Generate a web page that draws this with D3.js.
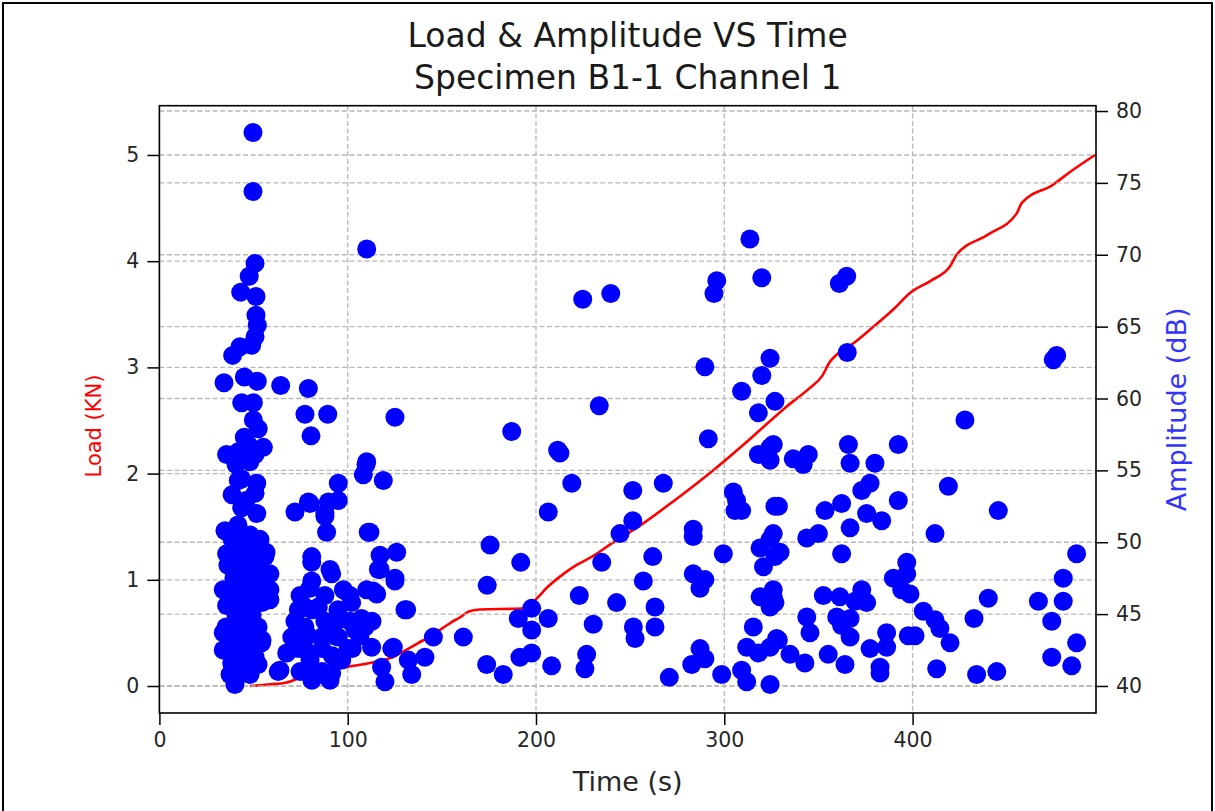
<!DOCTYPE html>
<html><head><meta charset="utf-8">
<script src="https://cdn.jsdelivr.net/npm/d3@7"></script>
<style>body{margin:0;background:#fff;}svg{display:block;font-family:"DejaVu Sans",sans-serif;}</style>
</head><body><svg id="c" width="1215" height="811"></svg>
<script>
const titleLines = ["Load & Amplitude VS Time", "Specimen B1-1 Channel 1"];
const xLabel = "Time (s)", yLeftLabel = "Load (KN)", yRightLabel = "Amplitude (dB)";
const xTicks = [0, 100, 200, 300, 400];
const loadTicks = [0, 1, 2, 3, 4, 5];
const ampTicks = [40, 45, 50, 55, 60, 65, 70, 75, 80];

const loadTime = [48,55,62,67,75,85,99.5,110,118,125,129,137,145,155,160,164,170,192.4,199.5,206,212.7,221.6,230,240,256,273,294,310,327.8,333,345,352,356,359.7,368,379,390,398.6,410,419.8,423.4,440,455.3,458,474.6,483.6,496.9];
const loadValue = [0,0.01,0.02,0.03,0.08,0.13,0.18,0.21,0.24,0.28,0.32,0.4,0.48,0.6,0.65,0.7,0.72,0.73,0.81,0.93,1.03,1.14,1.22,1.34,1.52,1.74,2.03,2.27,2.55,2.63,2.8,2.92,3.05,3.12,3.22,3.38,3.55,3.7,3.82,3.95,4.06,4.25,4.45,4.55,4.72,4.84,5.0];

const ampTime = [49.7,49.7,50.8,47.7,43.2,51.3,51.3,52.0,50.8,49.0,42.8,38.9,34.3,45.1,52.0,64.4,79.1,43.7,49.9,77.3,89.4,125.1,80.5,110.1,49.9,52.5,45.1,55.2,35.7,41.9,50.8,43.7,51.7,50.8,43.7,51.7,72.0,79.1,34.8,48.1,41.9,95.0,95.0,87.9,88.8,110.1,108.3,118.9,110.9,117.2,126.0,117.2,125.1,110.1,115.4,130.4,80.9,80.9,90.6,67.6,64.0,145.5,141.0,134.0,119.8,124.2,161.4,40.1,80.0,91.5,97.7,113.6,131.3,73.8,84.4,102.1,107.4,70.3,109.2,112.7,123.4,132.2,118.0,80.9,91.5,96.8,79.1,86.2,95.0,103.9,95.0,77.3,109.7,89.7,80.0,87.9,111.8,80.9,116.3,125.1,35.7,56.1,58.7,33.9,58.7,58.7,35.7,45.5,33.9,50.8,33.9,54.3,38.4,50.8,41.1,47.2,63.1,72.0,77.3,
38.6,45.5,53.4,41.7,49.2,56.6,36.4,44.9,52.4,39.6,48.1,55.5,42.8,50.8,37.5,46.0,54.5,40.7,49.2,35.4,43.9,52.4,38.6,47.1,54.5,41.7,50.2,44.9,52.4,37.5,48.1,47.1,40.7,48.1,46.0,38.6,41.7,
74.7,87.9,101.2,81.0,94.8,72.0,87.9,101.2,112.9,78.9,93.2,106.5,73.6,86.3,100.2,80.0,91.8,102.4,74.7,86.3,81.0,90.6,
224.8,239.7,296.0,294.5,313.6,319.9,289.7,324.3,319.9,309.2,233.6,326.9,187.1,211.5,212.7,219.0,206.5,251.4,267.6,291.5,251.4,244.6,175.6,191.9,174.1,234.9,262.0,283.5,283.5,299.5,283.5,289.7,287.1,257.0,223.0,242.8,263.2,197.7,190.6,206.5,197.7,230.4,251.7,252.6,263.2,191.5,197.7,173.8,182.6,208.3,226.9,226.0,270.8,282.7,287.1,289.7,298.6,309.2,311.9,324.3,315.4,311.9,318.1,324.3,327.8,318.1,318.1,324.3,324.3,326.9,326.0,319.0,320.8,319.0,324.3,326.0,304.8,306.5,305.7,309.2,324.3,326.9,427.8,326.0,365.9,392.4,336.6,344.6,341.9,366.8,380.0,377.4,373.0,419.0,392.4,328.7,353.5,362.3,375.6,383.6,445.5,366.8,411.9,343.8,350.0,329.6,362.3,396.9,389.8,396.9,398.6,394.2,487.1,480.0,480.0,466.8,440.2,432.6,473.9,487.1,473.9,484.5,444.7,434.0,412.8,382.7,382.7,364.1,342.8,334.9,355.2,377.4,386.2,386.2,397.7,401.3,405.7,411.9,414.5,419.9,366.8,362.3,359.7,366.8,375.6,373.0,361.4,352.6,369.4,343.8,345.5,328.7,326.0,326.9,365.0,361.1,365.3,474.7,476.5];
const ampValue = [78.5,74.4,69.4,68.5,67.4,67.1,65.8,65.1,64.3,63.7,63.6,63.0,61.1,61.5,61.2,60.9,60.7,59.7,59.7,58.9,58.9,58.7,57.4,70.4,58.5,57.9,57.3,56.6,56.1,56.3,56.1,54.4,54.1,53.4,52.4,52.0,52.1,52.8,50.8,50.5,54.3,54.1,52.9,52.0,50.7,55.6,54.7,54.3,50.7,49.1,49.3,48.1,47.3,46.7,46.4,45.3,47.3,49.0,48.1,42.3,41.1,43.4,42.0,40.8,40.3,42.7,43.4,40.1,46.8,47.8,46.7,46.6,45.3,45.3,45.5,45.8,44.7,43.4,44.1,42.7,42.6,41.8,41.3,40.9,40.9,41.8,42.3,43.4,43.4,43.9,44.6,44.1,55.4,52.8,52.7,51.8,50.7,48.6,48.1,47.5,49.2,49.0,47.8,46.7,46.7,46.0,45.6,45.8,43.7,43.7,42.5,43.0,41.6,42.0,40.6,41.1,41.0,43.4,45.5,
50.2,50.2,50.2,49.3,49.3,49.3,48.4,48.4,48.4,47.5,47.5,47.5,46.7,46.7,45.8,45.8,45.8,44.9,44.9,44.1,44.1,44.1,43.2,43.2,43.2,42.4,42.4,41.5,41.5,40.8,40.8,56.8,55.4,55.6,52.9,53.3,51.2,
46.3,46.3,46.3,45.3,45.3,44.5,44.5,44.5,44.5,43.5,43.5,43.5,42.6,42.6,42.6,41.8,42.1,42.6,41.0,41.0,40.4,40.4,
66.9,67.3,68.2,67.3,71.1,68.4,62.2,62.8,61.6,60.5,59.5,59.8,57.7,56.4,56.2,54.1,52.1,53.6,54.1,57.2,51.5,50.6,49.8,48.6,47.0,48.6,49.0,50.9,50.4,49.2,47.8,47.4,46.8,47.3,46.3,45.8,45.5,45.4,44.7,44.7,43.9,44.3,44.1,43.3,44.1,42.0,42.3,41.5,40.8,41.4,42.2,41.2,40.6,41.5,42.6,41.9,40.8,41.1,40.3,40.1,44.1,42.7,42.3,42.7,43.3,59.0,56.1,56.6,55.7,52.5,50.6,49.6,48.3,46.2,45.5,46.2,53.5,52.9,52.2,52.2,50.2,49.0,58.5,56.8,56.8,56.8,55.8,56.1,55.4,55.5,55.5,54.1,53.6,53.9,52.9,52.5,52.2,52.7,52.0,51.5,52.2,51.0,50.6,50.3,50.6,49.3,49.2,48.6,47.5,47.8,46.4,46.7,49.2,47.5,45.9,45.9,46.1,44.7,44.5,43.0,42.0,41.4,41.0,40.8,41.2,41.3,40.9,41.5,41.6,42.2,42.2,42.6,42.7,43.7,43.5,43.5,45.2,44.6,44.0,43.0,43.4,44.2,44.8,44.7,45.8,46.7,46.2,46.3,45.9,44.8,43.7,43.2,46.7,45.8,68.5,68.0,63.2,62.7,63.0];

const svg = d3.select("#c");
const L = 159.4, R = 1096, T = 105.7, B = 713;
const x = d3.scaleLinear().domain([0, 497.4]).range([L, R]);
const yL = d3.scaleLinear().domain([-0.254, 5.464]).range([B, T]);
const yA = d3.scaleLinear().domain([38.12, 80.37]).range([B, T]);

// outer frame
svg.append("rect").attr("x", 3).attr("y", 3).attr("width", 1209).attr("height", 830)
  .attr("fill", "none").attr("stroke", "#000").attr("stroke-width", 2);

const gridStyle = g => g.attr("stroke", "#b8b8b8").attr("stroke-width", 1.3).attr("stroke-dasharray", "5,2.6");
const grid = svg.append("g").call(gridStyle);
grid.selectAll(".gx").data(xTicks).join("line").attr("x1", d => x(d)).attr("x2", d => x(d)).attr("y1", T).attr("y2", B);
grid.selectAll(".gl").data(loadTicks).join("line").attr("x1", L).attr("x2", R).attr("y1", d => yL(d)).attr("y2", d => yL(d));

const line = d3.line().curve(d3.curveMonotoneX).x((d, i) => x(loadTime[i])).y((d, i) => yL(loadValue[i]));
svg.append("path").datum(loadValue).attr("d", line).attr("fill", "none").attr("stroke", "#ff0000").attr("stroke-width", 2.6);

const grid2 = svg.append("g").call(gridStyle);
grid2.selectAll("line").data(ampTicks).join("line").attr("x1", L).attr("x2", R).attr("y1", d => yA(d)).attr("y2", d => yA(d));

svg.append("g").selectAll("circle").data(ampValue).join("circle")
  .attr("cx", (d, i) => x(ampTime[i])).attr("cy", d => yA(d)).attr("r", 9.5).attr("fill", "#0000ff");

// spines
svg.append("rect").attr("x", L).attr("y", T).attr("width", R - L).attr("height", B - T)
  .attr("fill", "none").attr("stroke", "#000").attr("stroke-width", 1.6);

const styleAxis = g => {
  g.select(".domain").remove();
  g.selectAll(".tick line").attr("stroke", "#000").attr("stroke-width", 1.5);
  g.selectAll(".tick text").attr("fill", "#262626").style("font-size", "20.5px").style("font-family", "DejaVu Sans");
};
const fmt = d3.format("d");
svg.append("g").attr("transform", `translate(0,${B})`)
  .call(d3.axisBottom(x).tickValues(xTicks).tickFormat(fmt).tickSize(12).tickPadding(7)).call(styleAxis);
svg.append("g").attr("transform", `translate(${L},0)`)
  .call(d3.axisLeft(yL).tickValues(loadTicks).tickFormat(fmt).tickSize(12).tickPadding(8)).call(styleAxis);
svg.append("g").attr("transform", `translate(${R},0)`)
  .call(d3.axisRight(yA).tickValues(ampTicks).tickFormat(fmt).tickSize(12).tickPadding(8)).call(styleAxis);

svg.append("g").selectAll("text").data(titleLines).join("text")
  .attr("x", (L + R) / 2).attr("y", (d, i) => 47 + i * 42).attr("text-anchor", "middle")
  .attr("fill", "#1a1a1a").style("font-size", "33px").text(d => d);

svg.append("text").attr("x", (L + R) / 2).attr("y", 791).attr("text-anchor", "middle")
  .attr("fill", "#262626").style("font-size", "27px").text(xLabel);
svg.append("text").attr("transform", `translate(101,426) rotate(-90)`).attr("text-anchor", "middle")
  .attr("fill", "#ff0000").style("font-size", "21px").text(yLeftLabel);
svg.append("text").attr("transform", `translate(1186,${(T + B) / 2}) rotate(-90)`).attr("text-anchor", "middle")
  .attr("fill", "#3333ff").style("font-size", "27px").text(yRightLabel);
</script></body></html>
